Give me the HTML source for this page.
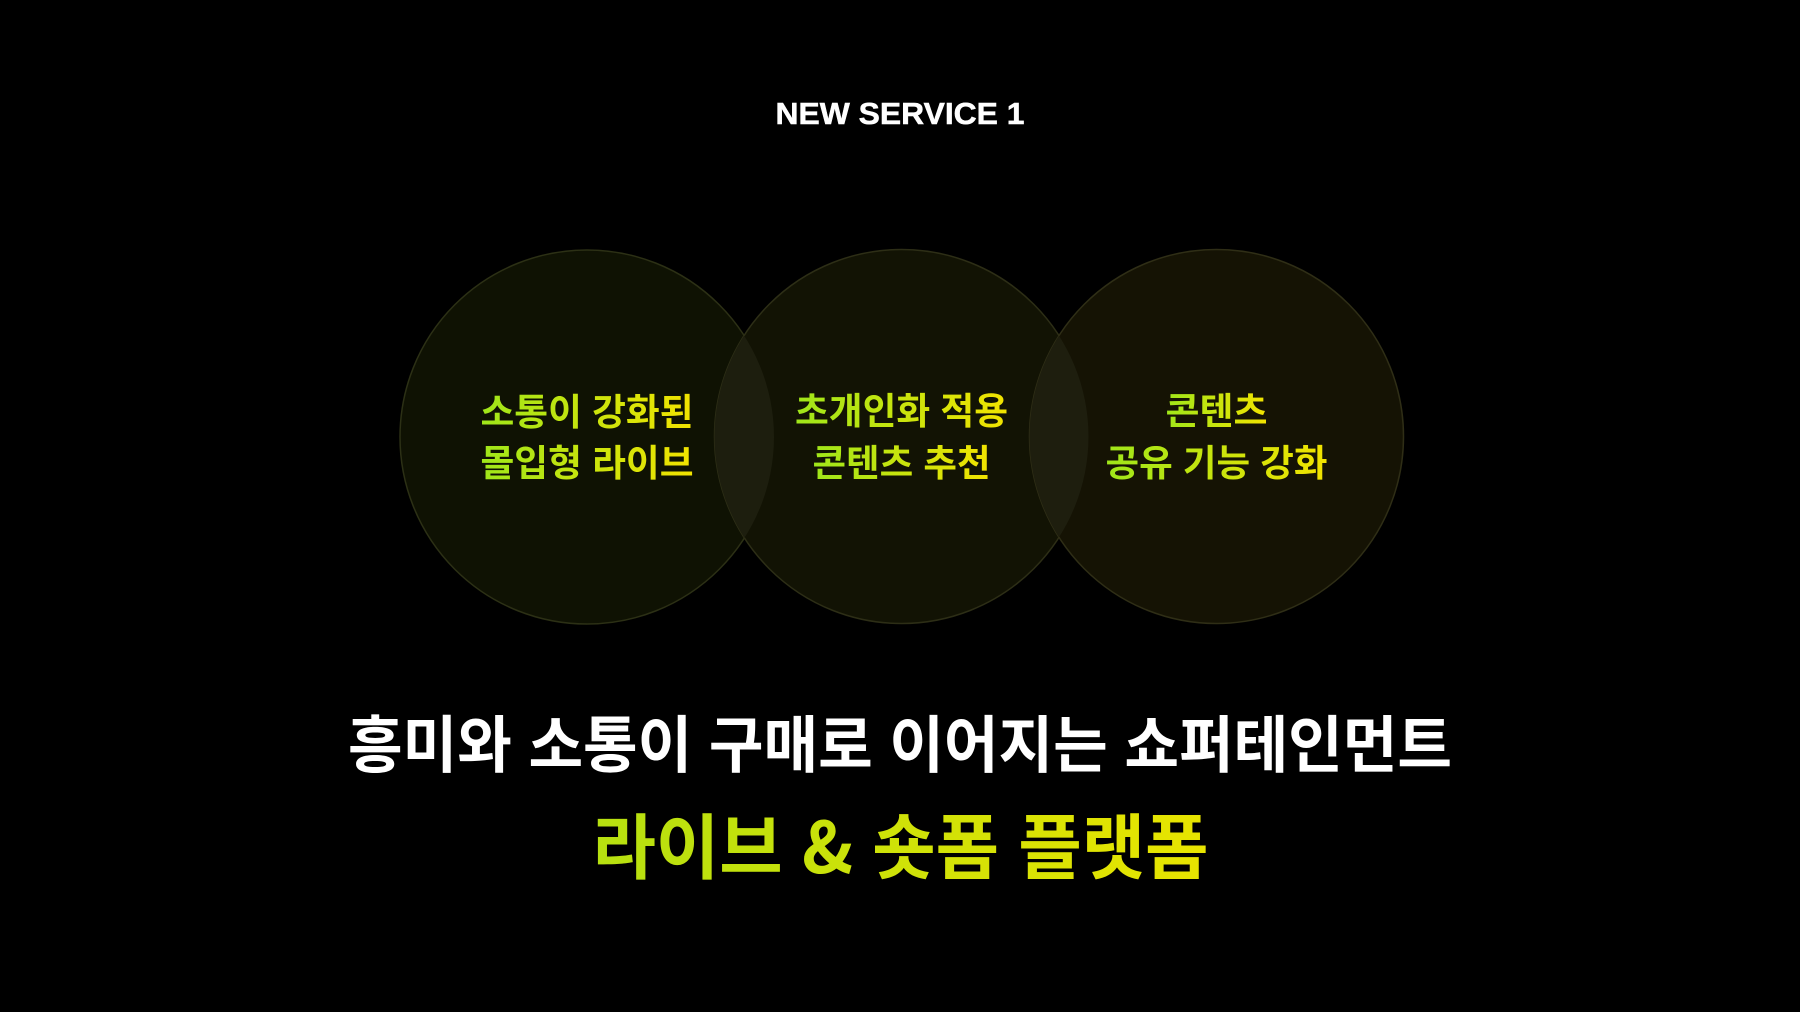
<!DOCTYPE html>
<html lang="ko">
<head>
<meta charset="utf-8">
<style>
html,body{margin:0;padding:0;background:#000;width:1800px;height:1012px;overflow:hidden}
svg{display:block}
text{font-family:"Liberation Sans","Noto Sans CJK KR",sans-serif;font-weight:700;text-anchor:middle}
text.k{font-family:"Noto Sans CJK KR","Liberation Sans",sans-serif}
</style>
</head>
<body>
<svg width="1800" height="1012" viewBox="0 0 1800 1012" xmlns="http://www.w3.org/2000/svg">
<defs>
<linearGradient id="g"><stop offset="0" stop-color="#9fe61a"/><stop offset="1" stop-color="#f2e300"/></linearGradient>
<linearGradient id="t"><stop offset="0" stop-color="#b6e010"/><stop offset="1" stop-color="#e8e400"/></linearGradient>
<clipPath id="c1"><circle cx="587" cy="437" r="187"/></clipPath>
<clipPath id="c3"><circle cx="1216.5" cy="436.5" r="187"/></clipPath>
</defs>
<rect width="1800" height="1012" fill="#000"/>
<text x="900" y="124" font-size="31" fill="#fff" stroke="#fff" stroke-width=".5" textLength="249" lengthAdjust="spacingAndGlyphs">NEW SERVICE 1</text>
<circle cx="587" cy="437" r="187" fill="#0f1203" stroke="#2c3015" stroke-width="1.5"/>
<circle cx="901.5" cy="436.5" r="187" fill="#121304" stroke="#2d2e16" stroke-width="1.5"/>
<circle cx="1216.5" cy="436.5" r="187" fill="#151304" stroke="#2f2e16" stroke-width="1.5"/>
<circle cx="901.5" cy="436.5" r="187" fill="#1d1e0e" clip-path="url(#c1)"/>
<circle cx="901.5" cy="436.5" r="187" fill="#1e1e0e" clip-path="url(#c3)"/>
<g font-size="37" fill="url(#g)">
<text class="k" x="587" y="425" textLength="213" lengthAdjust="spacingAndGlyphs">소통이 강화된</text>
<text class="k" x="587" y="476" textLength="213" lengthAdjust="spacingAndGlyphs">몰입형 라이브</text>
<text class="k" x="901.5" y="424" textLength="213" lengthAdjust="spacingAndGlyphs">초개인화 적용</text>
<text class="k" x="901.5" y="476" textLength="178" lengthAdjust="spacingAndGlyphs">콘텐츠 추천</text>
<text class="k" x="1216.5" y="424" textLength="102" lengthAdjust="spacingAndGlyphs">콘텐츠</text>
<text class="k" x="1216.5" y="476" textLength="222" lengthAdjust="spacingAndGlyphs">공유 기능 강화</text>
</g>
<text class="k" x="900" y="767" font-size="62" fill="#fff" textLength="1104" lengthAdjust="spacingAndGlyphs">흥미와 소통이 구매로 이어지는 쇼퍼테인먼트</text>
<text class="k" x="900.5" y="873" font-size="71" fill="url(#t)" textLength="616" lengthAdjust="spacingAndGlyphs">라이브 &amp; 숏폼 플랫폼</text>
</svg>
</body>
</html>
